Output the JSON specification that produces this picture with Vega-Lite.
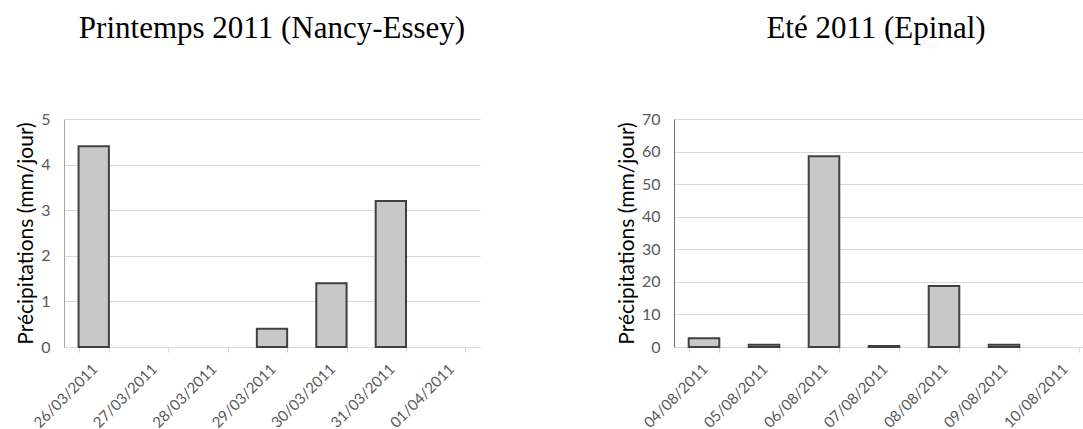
{
  "$schema": "https://vega.github.io/schema/vega-lite/v6.json",
  "padding": {"left": 15, "top": 13, "right": 0, "bottom": 0},
  "background": "white",
  "datasets": {
    "nancy": [
      {"date": "26/03/2011", "value": 4.4},
      {"date": "27/03/2011", "value": 0},
      {"date": "28/03/2011", "value": 0},
      {"date": "29/03/2011", "value": 0.4},
      {"date": "30/03/2011", "value": 1.4},
      {"date": "31/03/2011", "value": 3.2},
      {"date": "01/04/2011", "value": 0}
    ],
    "epinal": [
      {"date": "04/08/2011", "value": 2.7},
      {"date": "05/08/2011", "value": 0.7},
      {"date": "06/08/2011", "value": 58.6},
      {"date": "07/08/2011", "value": 0.3},
      {"date": "08/08/2011", "value": 18.7},
      {"date": "09/08/2011", "value": 0.7},
      {"date": "10/08/2011", "value": 0}
    ]
  },
  "config": {
    "view": {"stroke": null},
    "font": "Lato",
    "title": {"font": "Liberation Serif", "fontSize": 31, "fontWeight": "normal", "color": "#000000", "anchor": "middle", "baseline": "alphabetic", "offset": 66, "frame": "group"},
    "axis": {"labelFont": "Lato", "labelFontSize": 16, "labelColor": "#595959", "titleFont": "Lato", "titleFontSize": 21, "titleFontWeight": "normal", "titleColor": "#000000", "gridColor": "#d9d9d9", "gridWidth": 1},
    "concat": {"spacing": 136}
  },
  "hconcat": [
    {
      "width": 416,
      "height": 228,
      "title": {"text": "Printemps 2011 (Nancy-Essey)"},
      "data": {"name": "nancy"},
      "mark": {"type": "bar", "fill": "#c8c8c8", "stroke": "#404040"},
      "encoding": {
        "x": {"field": "date", "type": "nominal", "sort": null,
          "scale": {"paddingInner": 0.49, "paddingOuter": 0.245},
          "axis": {"title": null, "labelAngle": -45, "labelFontSize": 15, "labelPadding": 9, "labelOffset": -4, "labelOverlap": false, "tickBand": "extent", "ticks": true, "tickSize": 5, "tickColor": "#d9d9d9", "domainColor": "#d9d9d9", "grid": false}},
        "y": {"field": "value", "type": "quantitative",
          "scale": {"domain": [0, 5]},
          "axis": {"title": "Précipitations (mm/jour)", "values": [0, 1, 2, 3, 4, 5], "ticks": false, "tickSize": 0, "labelPadding": 14, "domainColor": "#a6a6a6", "titlePadding": 4, "grid": true}},
        "strokeWidth": {"condition": {"test": "datum.value > 0", "value": 2}, "value": 0}
      }
    },
    {
      "width": 420,
      "height": 228,
      "title": {"text": "Eté 2011 (Epinal)", "dx": -8},
      "data": {"name": "epinal"},
      "mark": {"type": "bar", "fill": "#c8c8c8", "stroke": "#404040"},
      "encoding": {
        "x": {"field": "date", "type": "nominal", "sort": null,
          "scale": {"paddingInner": 0.49, "paddingOuter": 0.245},
          "axis": {"title": null, "labelAngle": -45, "labelFontSize": 15, "labelPadding": 9, "labelOffset": -4, "labelOverlap": false, "tickBand": "extent", "ticks": true, "tickSize": 5, "tickColor": "#d9d9d9", "domainColor": "#d9d9d9", "grid": false}},
        "y": {"field": "value", "type": "quantitative",
          "scale": {"domain": [0, 70]},
          "axis": {"title": "Précipitations (mm/jour)", "values": [0, 10, 20, 30, 40, 50, 60, 70], "ticks": false, "tickSize": 0, "labelPadding": 14, "domainColor": "#6f6f6f", "titlePadding": 4, "grid": true}},
        "strokeWidth": {"condition": {"test": "datum.value > 0", "value": 2}, "value": 0}
      }
    }
  ]
}
